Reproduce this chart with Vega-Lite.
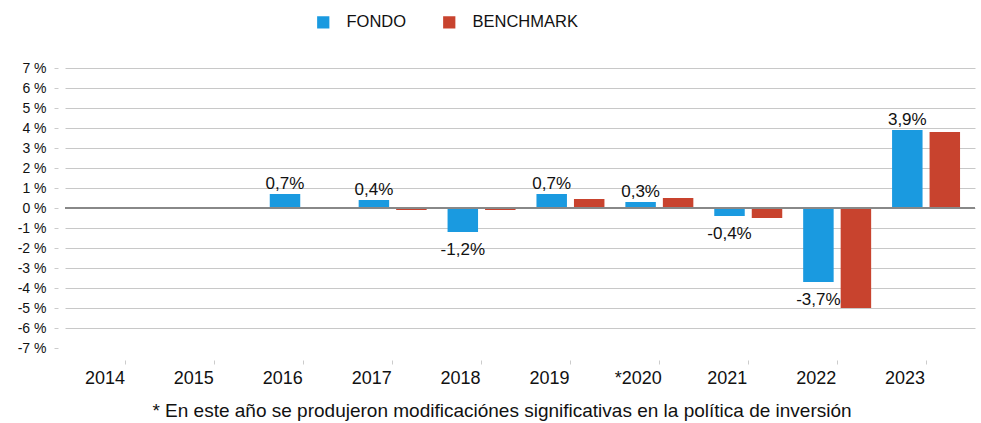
{
  "$schema": "https://vega.github.io/schema/vega-lite/v6.json",
  "width": 910,
  "height": 280,
  "autosize": {"type": "none"},
  "padding": {"left": 65, "top": 68, "right": 6, "bottom": 75},
  "background": "#ffffff",
  "config": {
    "font": "Liberation Sans",
    "view": {"stroke": null}
  },
  "title": {
    "text": "* En este año se produjeron modificaciónes significativas en la política de inversión",
    "orient": "bottom",
    "anchor": "middle",
    "fontSize": 19,
    "fontWeight": "normal",
    "color": "#111111",
    "offset": 15,
    "dx": -18
  },
  "data": {
    "values": [
      {"year": "2014", "serie": "FONDO", "value": null, "label": ""},
      {"year": "2014", "serie": "BENCHMARK", "value": null, "label": ""},
      {"year": "2015", "serie": "FONDO", "value": null, "label": ""},
      {"year": "2015", "serie": "BENCHMARK", "value": null, "label": ""},
      {"year": "2016", "serie": "FONDO", "value": 0.7, "label": "0,7%"},
      {"year": "2016", "serie": "BENCHMARK", "value": null, "label": ""},
      {"year": "2017", "serie": "FONDO", "value": 0.4, "label": "0,4%"},
      {"year": "2017", "serie": "BENCHMARK", "value": -0.1, "label": ""},
      {"year": "2018", "serie": "FONDO", "value": -1.2, "label": "-1,2%"},
      {"year": "2018", "serie": "BENCHMARK", "value": -0.1, "label": ""},
      {"year": "2019", "serie": "FONDO", "value": 0.7, "label": "0,7%"},
      {"year": "2019", "serie": "BENCHMARK", "value": 0.45, "label": ""},
      {"year": "*2020", "serie": "FONDO", "value": 0.3, "label": "0,3%"},
      {"year": "*2020", "serie": "BENCHMARK", "value": 0.5, "label": ""},
      {"year": "2021", "serie": "FONDO", "value": -0.4, "label": "-0,4%"},
      {"year": "2021", "serie": "BENCHMARK", "value": -0.5, "label": ""},
      {"year": "2022", "serie": "FONDO", "value": -3.7, "label": "-3,7%"},
      {"year": "2022", "serie": "BENCHMARK", "value": -5.0, "label": ""},
      {"year": "2023", "serie": "FONDO", "value": 3.9, "label": "3,9%"},
      {"year": "2023", "serie": "BENCHMARK", "value": 3.8, "label": ""}
    ]
  },
  "encoding": {
    "x": {
      "field": "year",
      "type": "nominal",
      "sort": null,
      "scale": {
        "domain": ["2014", "2015", "2016", "2017", "2018", "2019", "*2020", "2021", "2022", "2023"],
        "paddingInner": 0,
        "paddingOuter": 0.118,
        "align": 0.786
      },
      "axis": {
        "title": null,
        "labelAngle": 0,
        "domain": false,
        "offset": 12,
        "ticks": true,
        "tickSize": 4,
        "tickColor": "#cccccc",
        "labelOffset": -21,
        "labelPadding": 5,
        "labelFontSize": 18,
        "labelColor": "#111111",
        "grid": false
      }
    },
    "xOffset": {
      "field": "serie",
      "type": "nominal",
      "scale": {
        "domain": ["FONDO", "BENCHMARK"],
        "paddingInner": 0.187,
        "paddingOuter": 0.279
      }
    },
    "y": {
      "field": "value",
      "type": "quantitative",
      "scale": {"domain": [-7, 7], "nice": false, "zero": false},
      "axis": {
        "title": null,
        "values": [-7, -6, -5, -4, -3, -2, -1, 0, 1, 2, 3, 4, 5, 6, 7],
        "labelExpr": "datum.value + ' %'",
        "domain": false,
        "offset": 7,
        "tickSize": 4,
        "tickColor": "#cccccc",
        "labelPadding": 8,
        "labelFontSize": 14,
        "labelColor": "#111111",
        "grid": true,
        "gridColor": "#c8c8c8",
        "gridWidth": 1,
        "gridOpacity": {"condition": {"test": "datum.value === -7", "value": 0}, "value": 1}
      }
    }
  },
  "layer": [
    {
      "mark": {"type": "bar"},
      "encoding": {
        "color": {
          "field": "serie",
          "type": "nominal",
          "scale": {"domain": ["FONDO", "BENCHMARK"], "range": ["#1a9ae0", "#c8432e"]},
          "legend": {
            "title": null,
            "orient": "none",
            "legendX": 250,
            "legendY": -54,
            "direction": "horizontal",
            "symbolType": "square",
            "symbolSize": 150,
            "symbolStrokeWidth": 0,
            "labelFontSize": 16.5,
            "labelColor": "#111111",
            "labelOffset": 15,
            "columnPadding": 34,
            "padding": 0
          }
        }
      }
    },
    {
      "mark": {"type": "rule", "color": "#888888", "strokeWidth": 2},
      "encoding": {"y": {"datum": 0}, "x": {"value": 0}, "x2": {"value": 910}, "xOffset": null}
    },
    {
      "transform": [{"filter": "datum.serie === 'FONDO' && datum.value >= 0"}],
      "mark": {"type": "text", "baseline": "bottom", "dy": -1, "fontSize": 17, "color": "#111111"},
      "encoding": {"text": {"field": "label"}}
    },
    {
      "transform": [{"filter": "datum.serie === 'FONDO' && datum.value < 0"}],
      "mark": {"type": "text", "baseline": "top", "dy": 10, "fontSize": 17, "color": "#111111"},
      "encoding": {"text": {"field": "label"}}
    }
  ]
}
